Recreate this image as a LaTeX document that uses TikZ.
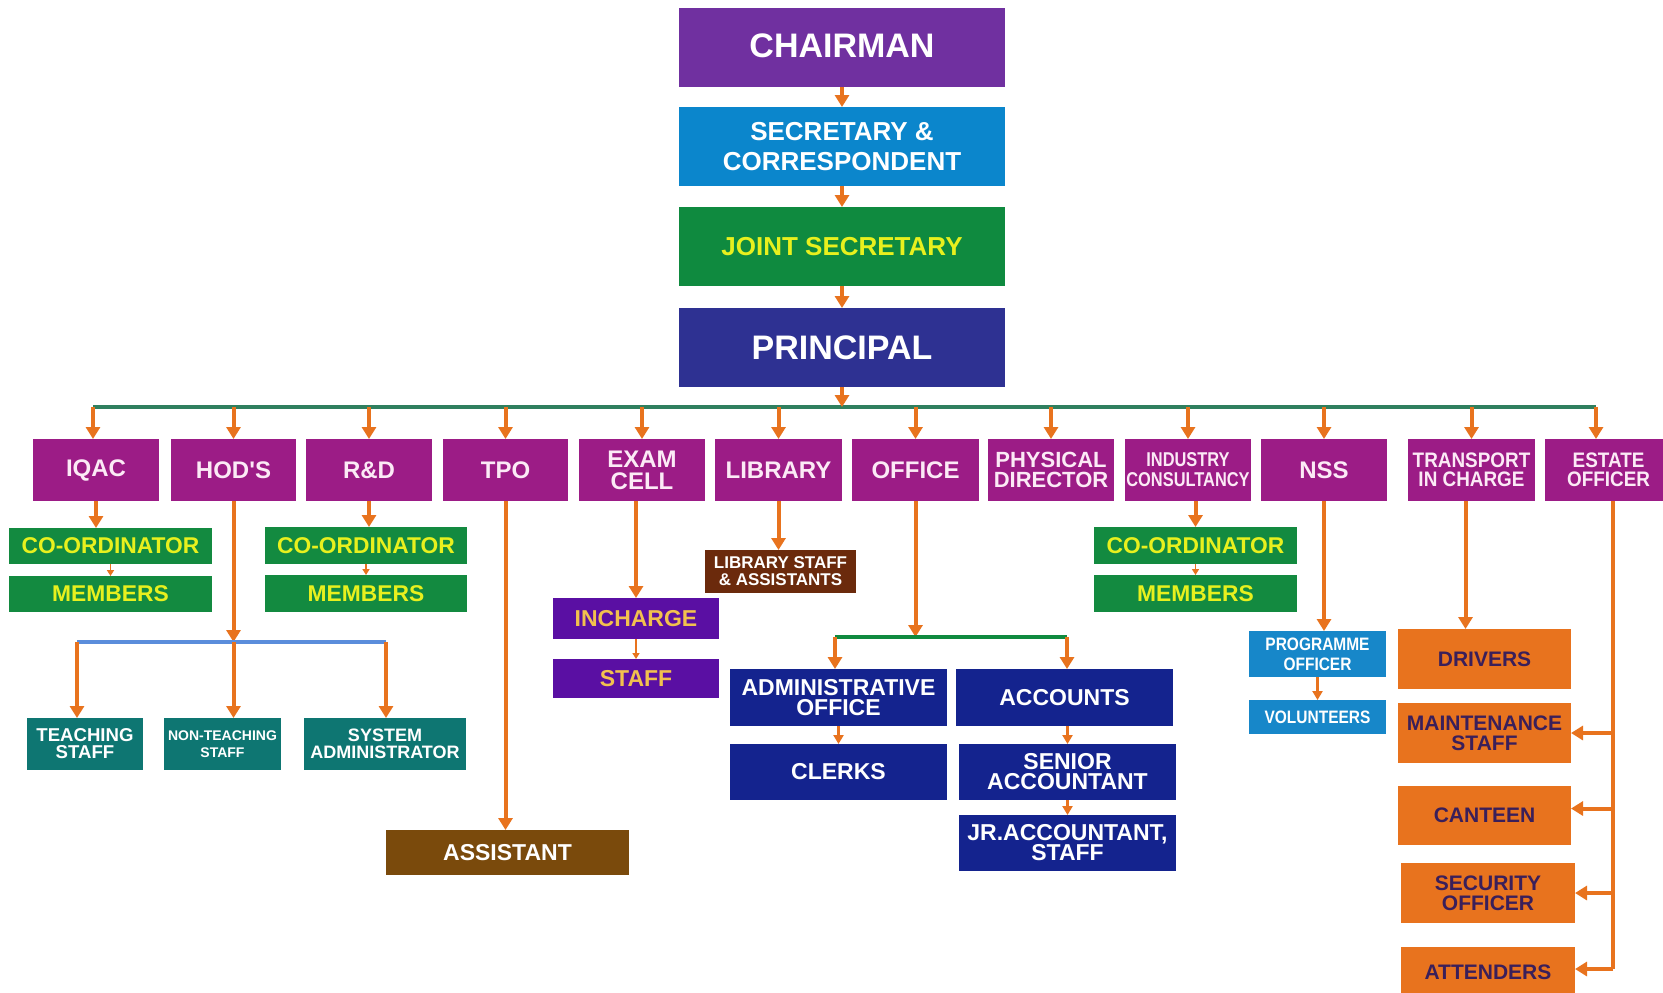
\documentclass[tikz,border=0pt]{standalone}
\usepackage{fontspec}
\setmainfont{Liberation Sans}
\newfontfamily\condA[FakeStretch=0.82]{Liberation Sans}
\newfontfamily\condB[FakeStretch=0.9]{Liberation Sans}
\newfontfamily\condC[FakeStretch=0.86]{Liberation Sans}
\usetikzlibrary{arrows.meta}
\definecolor{chairc}{HTML}{7030A0}
\definecolor{secc}{HTML}{0B86CC}
\definecolor{jointc}{HTML}{0F8A3F}
\definecolor{princc}{HTML}{2E3192}
\definecolor{magc}{HTML}{9C1C86}
\definecolor{magt}{HTML}{FCEAF6}
\definecolor{grnc}{HTML}{138A40}
\definecolor{yelc}{HTML}{E8F01E}
\definecolor{tealc}{HTML}{0E7672}
\definecolor{asstc}{HTML}{7A4A0C}
\definecolor{vioc}{HTML}{5A0FA3}
\definecolor{goldc}{HTML}{F2C14E}
\definecolor{libc}{HTML}{6B2A0C}
\definecolor{navc}{HTML}{14238E}
\definecolor{pbluec}{HTML}{1787C9}
\definecolor{orgc}{HTML}{E8731E}
\definecolor{orgt}{HTML}{3A1F5A}
\definecolor{arrc}{HTML}{E8731E}
\definecolor{busc}{HTML}{2F7F5F}
\definecolor{hbusc}{HTML}{5B8DDB}
\newcommand\bx[7]{\node[#2, minimum width={(#5-#3)*0.5pt}, minimum height={(#6-#4)*0.5pt}] (#1) at ({(#3+#5)/2},{(#4+#6)/2}) {#7};}
\tikzset{
  box/.style={rectangle, inner sep=0pt, outer sep=0pt, align=center},
  topbox/.style={box, text=white, font=\bfseries\fontsize{17}{17}\selectfont},
  mag/.style={box, fill=magc, text=magt, font=\bfseries\fontsize{12}{11}\selectfont},
  grn/.style={box, fill=grnc, text=yelc, font=\bfseries\fontsize{11.4}{12}\selectfont},
  tea/.style={box, fill=tealc, text=white, font=\bfseries\fontsize{9.3}{8.5}\selectfont},
  vio/.style={box, fill=vioc, text=goldc, font=\bfseries\fontsize{11.5}{11}\selectfont},
  nav/.style={box, fill=navc, text=white, font=\bfseries\fontsize{11.5}{10}\selectfont},
  pbl/.style={box, fill=pbluec, text=white, font=\condC\bfseries\fontsize{9}{10}\selectfont},
  org/.style={box, fill=orgc, text=orgt, font=\bfseries\fontsize{10.5}{10}\selectfont},
  arr/.style={draw=arrc, line width=2pt, -{Triangle[width=7pt,length=6pt]}},
  marr/.style={draw=arrc, line width=1.5pt, -{Triangle[width=5pt,length=4.5pt]}},
  sarr/.style={draw=arrc, line width=0.8pt, -{Triangle[width=3.5pt,length=3pt]}},
  oline/.style={draw=arrc, line width=2.2pt},
  busline/.style={draw=busc, line width=1.6pt},
}
\begin{document}
\begin{tikzpicture}[x=0.5pt,y=-0.5pt]
\fill[white] (0,0) rectangle (1663,992);
\useasboundingbox (0,0) rectangle (1663,992);
% top chain
\bx{chair}{topbox, fill=chairc}{679}{8}{1005}{87}{\raisebox{2pt}{CHAIRMAN}}
\bx{sec}{topbox, fill=secc, font=\bfseries\fontsize{13}{15}\selectfont}{679}{107}{1005}{186}{SECRETARY \&\\CORRESPONDENT}
\bx{joint}{topbox, fill=jointc, text=yelc, font=\bfseries\fontsize{13}{15}\selectfont}{679}{207}{1005}{286}{JOINT SECRETARY}
\bx{princ}{topbox, fill=princc}{679}{308}{1005}{387}{PRINCIPAL}
\draw[arr] (chair.south) -- (sec.north);
\draw[arr] (sec.south) -- (joint.north);
\draw[arr] (joint.south) -- (princ.north);
% row 1
\bx{iqac}{mag}{33}{439}{159}{501}{IQAC}
\bx{hods}{mag}{171}{439}{296}{501}{HOD\textquotesingle S}
\bx{rnd}{mag}{306}{439}{432}{501}{R\&D}
\bx{tpo}{mag}{443}{439}{568}{501}{TPO}
\bx{exam}{mag}{579}{439}{705}{501}{EXAM\\CELL}
\bx{lib}{mag}{715}{439}{842}{501}{LIBRARY}
\bx{office}{mag}{852}{439}{979}{501}{OFFICE}
\bx{phys}{mag, font=\bfseries\fontsize{11}{10}\selectfont}{988}{439}{1114}{501}{PHYSICAL\\DIRECTOR}
\bx{indus}{mag, font=\condA\bfseries\fontsize{10}{10}\selectfont}{1125}{439}{1251}{501}{INDUSTRY\\CONSULTANCY}
\bx{nss}{mag}{1261}{439}{1387}{501}{NSS}
\bx{trans}{mag, font=\condB\bfseries\fontsize{10.5}{9.5}\selectfont}{1408}{439}{1535}{501}{TRANSPORT\\IN CHARGE}
\bx{estate}{mag, font=\condB\bfseries\fontsize{10.5}{9.5}\selectfont}{1545}{439}{1672}{501}{ESTATE\\OFFICER}
% bus
\coordinate (busL) at (93,407);
\coordinate (busR) at (1596,407);
\draw[busline] (busL) -- (busR);
\draw[arr] (princ.south) -- (princ.south |- busL);
\draw[arr] (busL) -- (busL |- iqac.north);
\foreach \n in {hods,rnd,tpo,exam,lib,office,phys,indus,nss,trans}
  \draw[arr] (\n.north |- busL) -- (\n.north);
\draw[arr] (busR) -- (busR |- estate.north);
% IQAC
\bx{coa}{grn}{9}{528}{212}{564}{CO-ORDINATOR}
\bx{mema}{grn}{9}{576}{212}{612}{MEMBERS}
\draw[arr] (iqac.south) -- (iqac.south |- coa.north);
\draw[sarr] (coa.south) -- (mema.north);
% R&D
\bx{cob}{grn}{265}{527}{467}{564}{CO-ORDINATOR}
\bx{memb}{grn}{265}{575}{467}{612}{MEMBERS}
\draw[arr] (rnd.south) -- (rnd.south |- cob.north);
\draw[sarr] (cob.south) -- (memb.north);
% Industry
\bx{coc}{grn}{1094}{527}{1297}{564}{CO-ORDINATOR}
\bx{memc}{grn}{1094}{575}{1297}{612}{MEMBERS}
\draw[arr] (indus.south -| coc.north) -- (coc.north);
\draw[sarr] (coc.south) -- (memc.north);
% HOD
\bx{teach}{tea}{27}{718}{143}{770}{TEACHING\\STAFF}
\bx{nont}{tea, font=\bfseries\fontsize{7}{8.3}\selectfont}{164}{718}{281}{770}{NON-TEACHING\\STAFF}
\bx{sys}{tea, font=\bfseries\fontsize{9}{8.5}\selectfont}{304}{718}{466}{770}{SYSTEM\\ADMINISTRATOR}
\coordinate (hl) at (77,642);
\coordinate (hr) at (386,642);
\draw[arr] (hods.south) -- (hods.south |- hl);
\draw[draw=hbusc, line width=2pt] (hl) -- (hr);
\draw[arr] (hl) -- (hl |- teach.north);
\draw[arr] (hods.south |- hl) -- (hods.south |- nont.north);
\draw[arr] (hr) -- (hr |- sys.north);
% TPO
\bx{asst}{box, fill=asstc, text=white, font=\bfseries\fontsize{11.5}{11}\selectfont}{386}{830}{629}{875}{ASSISTANT}
\draw[arr] (tpo.south) -- (tpo.south |- asst.north);
% Exam
\bx{inch}{vio}{553}{598}{719}{639}{INCHARGE}
\bx{stf}{vio}{553}{659}{719}{698}{STAFF}
\draw[arr] (exam.south -| inch.north) -- (inch.north);
\draw[sarr] (inch.south) -- (stf.north);
% Library
\bx{libs}{box, fill=libc, text=white, font=\bfseries\fontsize{8.5}{8.5}\selectfont}{705}{550}{856}{593}{LIBRARY STAFF\\\& ASSISTANTS}
\draw[arr] (lib.south) -- (lib.south |- libs.north);
% Office
\bx{adm}{nav}{730}{669}{947}{726}{ADMINISTRATIVE\\OFFICE}
\bx{acc}{nav}{956}{669}{1173}{726}{ACCOUNTS}
\bx{clerk}{nav}{730}{744}{947}{800}{CLERKS}
\bx{senior}{nav}{959}{744}{1176}{800}{SENIOR\\ACCOUNTANT}
\bx{jr}{nav}{959}{815}{1176}{871}{JR.ACCOUNTANT,\\STAFF}
\coordinate (ol) at (835,637);
\coordinate (or) at (1067,637);
\draw[arr] (office.south) -- (office.south |- ol);
\draw[draw=jointc, line width=1.6pt] (ol) -- (or);
\draw[arr] (ol) -- (ol |- adm.north);
\draw[arr] (or) -- (or |- acc.north);
\draw[marr] (adm.south) -- (clerk.north);
\draw[marr] (acc.south -| senior.north) -- (senior.north);
\draw[marr] (senior.south) -- (jr.north);
% NSS
\bx{prog}{pbl}{1249}{631}{1386}{677}{PROGRAMME\\OFFICER}
\bx{vol}{pbl}{1249}{700}{1386}{734}{VOLUNTEERS}
\draw[arr] (nss.south) -- (nss.south |- prog.north);
\draw[marr] (prog.south) -- (vol.north);
% Transport
\bx{drv}{org}{1398}{629}{1571}{689}{DRIVERS}
\bx{mnt}{org}{1398}{703}{1571}{763}{MAINTENANCE\\STAFF}
\bx{cant}{org}{1398}{786}{1571}{845}{CANTEEN}
\bx{secu}{org}{1401}{863}{1575}{923}{SECURITY\\OFFICER}
\bx{att}{org}{1401}{947}{1575}{997}{ATTENDERS}
\coordinate (ttop) at ([xshift=-3pt]trans.south);
\draw[arr] (ttop) -- (ttop |- drv.north);
% Estate
\coordinate (ebot) at (1613,969);
\draw[oline] (ebot |- estate.south) -- (ebot);
\draw[arr] (ebot |- mnt.east) -- (mnt.east);
\draw[arr] ([yshift=3.5pt]ebot |- cant.east) -- ([yshift=3.5pt]cant.east);
\draw[arr] (ebot |- secu.east) -- (secu.east);
\draw[arr] (ebot) -- (ebot -| att.east);
\end{tikzpicture}
\end{document}
